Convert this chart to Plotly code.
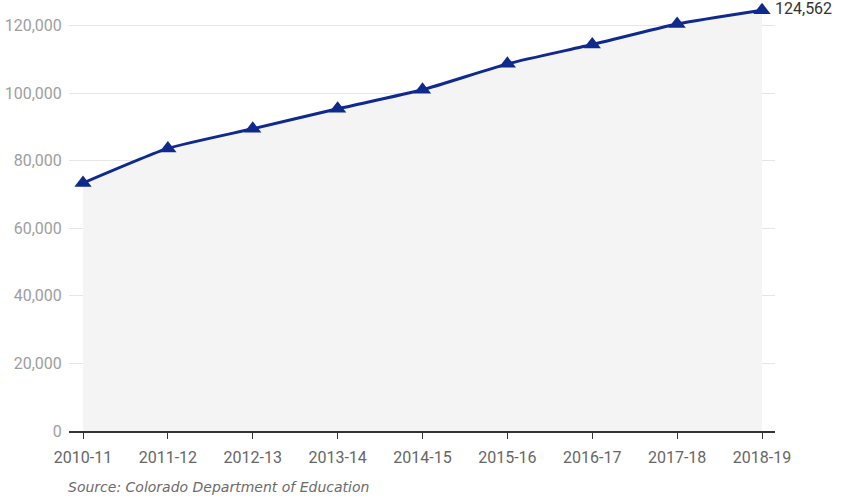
import plotly.graph_objects as go

# Anni scolastici e valori
years = ["2010-11", "2011-12", "2012-13", "2013-14", "2014-15",
         "2015-16", "2016-17", "2017-18", "2018-19"]
students = [73400, 83650, 89470, 95390, 101010, 108690, 114400, 120500, 124562]
y_ticks = [0, 20000, 40000, 60000, 80000, 100000, 120000]

fig = go.Figure()

# Linea principale con area grigia sotto
fig.add_trace(go.Scatter(
    x=years, y=students,
    mode="lines+markers",
    fill="tozeroy",
    fillcolor="#f4f4f4",
    line=dict(color="#0f2a8c", width=3, shape="spline", smoothing=0.5),
    marker=dict(symbol="triangle-up", size=15, color="#0f2a8c"),
    cliponaxis=False,
    hoverinfo="x+y",
    showlegend=False
))

# Etichetta dell'ultimo valore
fig.add_annotation(
    x=years[-1], y=students[-1],
    text=f"{students[-1]:,}",
    showarrow=False,
    xanchor="left", yanchor="middle",
    xshift=11, yshift=2,
    font=dict(family="Roboto, sans-serif", size=16, color="#333333")
)

# Fonte
fig.add_annotation(
    x=0, y=0, xref="paper", yref="paper",
    text="<i>Source: Colorado Department of Education</i>",
    showarrow=False,
    xanchor="left", yanchor="top",
    xshift=-3, yshift=-46,
    font=dict(family="DejaVu Sans, sans-serif", size=14, color="#6b6b6b"),
)

fig.update_layout(
    width=842, height=498,
    margin=dict(l=69, r=67, t=2, b=67),
    plot_bgcolor="white",
    paper_bgcolor="white",
    font=dict(family="Roboto, sans-serif", size=15),
    xaxis=dict(
        type="category",
        range=[-0.165, 8.153],
        showgrid=False,
        showline=True, linecolor="#333333", linewidth=1.5,
        ticks="outside", ticklen=6, tickcolor="#333333", tickwidth=1.2,
        ticklabelstandoff=5,
        tickfont=dict(family="Roboto, sans-serif", size=16, color="#666666"),
        fixedrange=True
    ),
    yaxis=dict(
        range=[0, 127000],
        tickvals=y_ticks,
        tickformat=",",
        showgrid=True, gridcolor="#e6e6e6", gridwidth=1,
        zeroline=False,
        showline=False,
        ticks="outside", ticklen=3, tickcolor="rgba(0,0,0,0)",
        tickfont=dict(family="Roboto, sans-serif", size=16, color="#9e9e9e"),
        fixedrange=True
    )
)

# Togliamo il margine della pagina così il grafico parte dall'angolo
fig.write_html("out.html", config={"displayModeBar": False},
               post_script="document.body.style.margin='0';")
